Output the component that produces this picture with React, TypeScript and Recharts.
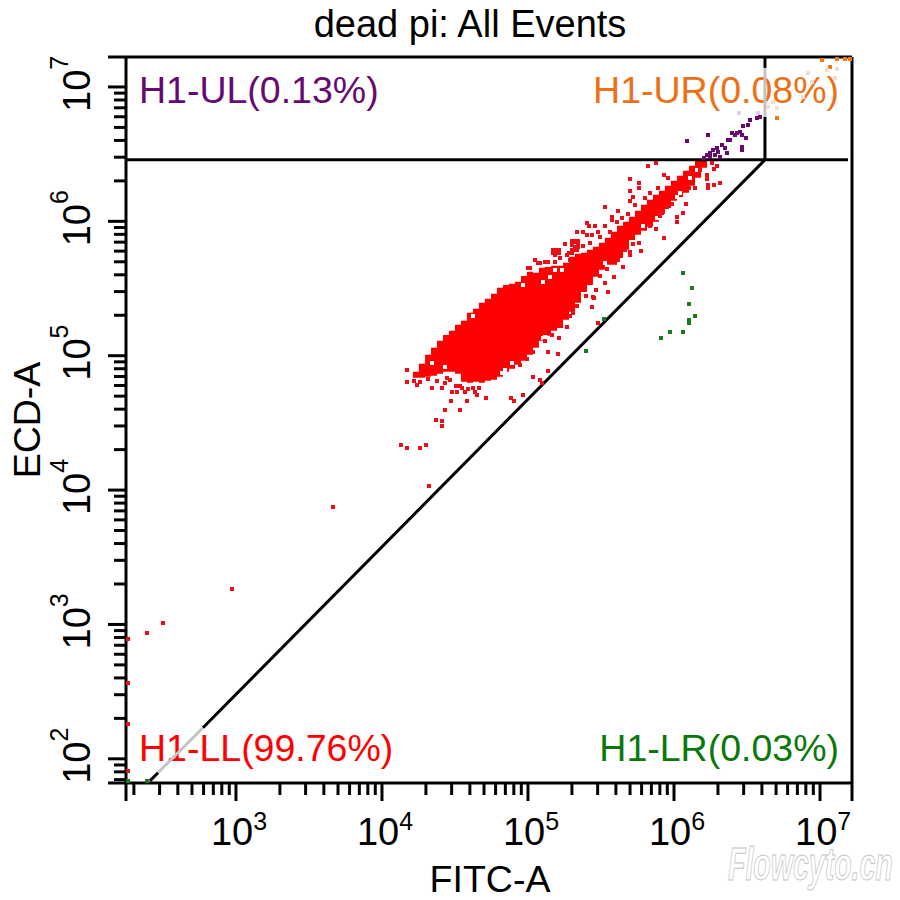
import React from 'react';
import { ComposedChart, Area, Scatter, XAxis, YAxis, ReferenceLine } from 'recharts';

// Everything on the event axes is kept as log10(channel value), the picture is read in decades
const FONT = '"Liberation Sans", Arial, sans-serif';

const xMin = 176.6;
const xMax = 1.656e7;
const yMin = 66.07;
const yMax = 1.671e7;

const xMajor = [xMin, 1e3, 1e4, 1e5, 1e6, 1e7, xMax];
const xMinor = [
  200, 300, 400, 500, 600, 700, 800, 900,
  2e3, 3e3, 4e3, 5e3, 6e3, 7e3, 8e3, 9e3,
  2e4, 3e4, 4e4, 5e4, 6e4, 7e4, 8e4, 9e4,
  2e5, 3e5, 4e5, 5e5, 6e5, 7e5, 8e5, 9e5,
  2e6, 3e6, 4e6, 5e6, 6e6, 7e6, 8e6, 9e6,
];
const yMajor = [yMin, 1e2, 1e3, 1e4, 1e5, 1e6, 1e7, yMax];
const yMinor = [
  70, 80, 90,
  200, 300, 400, 500, 600, 700, 800, 900,
  2e3, 3e3, 4e3, 5e3, 6e3, 7e3, 8e3, 9e3,
  2e4, 3e4, 4e4, 5e4, 6e4, 7e4, 8e4, 9e4,
  2e5, 3e5, 4e5, 5e5, 6e5, 7e5, 8e5, 9e5,
  2e6, 3e6, 4e6, 5e6, 6e6, 7e6, 8e6, 9e6,
];
const decadeLabels: Record<number, string> = { 100: '2', 1000: '3', 10000: '4', 100000: '5', 1000000: '6', 10000000: '7' };

// dense population: envelope per FITC column
const blobFitc = [
  4.212, 4.253, 4.295, 4.336, 4.377, 4.418, 4.459, 4.5, 4.541, 4.582,
  4.623, 4.664, 4.705, 4.747, 4.788, 4.829, 4.87, 4.911, 4.952, 4.993,
  5.034, 5.075, 5.116, 5.158, 5.199, 5.24, 5.281, 5.322, 5.363, 5.404,
  5.445, 5.486, 5.527, 5.568, 5.61, 5.651, 5.692, 5.733, 5.774, 5.815,
  5.856, 5.897, 5.938, 5.979, 6.021, 6.062, 6.103, 6.144, 6.185, 6.226,
];
const blobHigh = [
  4.88, 4.94, 5.007, 5.059, 5.111, 5.155, 5.185, 5.23, 5.26, 5.319,
  5.349, 5.394, 5.423, 5.461, 5.505, 5.527, 5.535, 5.55, 5.594, 5.624,
  5.617, 5.654, 5.661, 5.669, 5.669, 5.691, 5.736, 5.758, 5.766, 5.788,
  5.81, 5.84, 5.877, 5.922, 5.967, 5.996, 6.034, 6.078, 6.123, 6.16,
  6.197, 6.227, 6.264, 6.302, 6.339, 6.376, 6.413, 6.45, 6.458, 6.458,
];
const blobLow = [
  4.835, 4.835, 4.843, 4.85, 4.865, 4.88, 4.88, 4.865, 4.806, 4.798,
  4.806, 4.798, 4.813, 4.821, 4.843, 4.88, 4.902, 4.932, 4.962, 5.007,
  5.059, 5.111, 5.148, 5.185, 5.207, 5.267, 5.327, 5.394, 5.475, 5.527,
  5.587, 5.639, 5.676, 5.676, 5.728, 5.788, 5.862, 5.9, 5.929, 5.959,
  5.996, 6.056, 6.1, 6.153, 6.182, 6.212, 6.264, 6.324, 6.398, 6.435,
];

// bins inside the population that hold no events
const gapFitc = [
  6.041, 6.02, 5.788, 5.883, 6.157, 6.109, 5.527, 4.623, 4.342, 4.431,
  4.966, 5.103, 5.151, 5.185, 5.233, 5.116, 4.89, 5.103, 4.842, 4.822,
];
const gapEcd = [
  6.212, 6.182, 5.967, 6.026, 6.383, 6.324, 5.691, 5.297, 4.947, 4.917,
  5.527, 5.55, 5.587, 5.639, 5.639, 5.14, 4.947, 5.133, 4.895, 4.873,
];

// stray red events around the population
const strayFitc = [
  4.13, 4.171, 4.26, 4.301, 4.322, 4.37, 4.411, 4.411, 4.431, 4.534,
  4.473, 4.582, 4.904, 4.171, 4.171, 4.24, 4.342, 4.411, 4.315, 4.431,
  4.479, 4.514, 4.568, 4.637, 4.651, 4.664, 4.712, 4.883, 4.966, 5.137,
  5.205, 5.137, 5.034, 5.082, 5.096, 5.212, 5.267, 5.438, 5.452, 5.548,
  5.527, 5.589, 5.479, 5.445, 5.466, 5.308, 5.048, 5.068, 5.404, 5.418,
  5.459, 5.527, 5.336, 5.377, 5.404, 5.438, 5.479, 5.322, 5.301, 5.253,
  5.336, 5.199, 5.185, 5.267, 5.082, 5.185, 5.288, 5.116, 5.0,
  5.822, 5.877, 5.931, 5.699, 5.76, 5.76, 5.699, 5.89, 5.719, 5.699,
  5.733, 5.527, 5.616, 5.575, 5.575, 5.609, 6.02, 6.02, 6.061, 6.082,
  5.877, 5.931, 5.952, 5.918, 5.76, 5.719, 5.774, 5.699, 5.699, 5.651,
  6.144, 6.103, 6.233, 6.233, 6.274, 6.315, 6.226, 6.226, 6.274, 6.294,
  6.26, 6.178,
  3.664, 2.973, 2.5, 2.39, 2.26, 2.26, 2.26, 2.26,
  5.171, 5.192, 5.212, 5.171, 5.212, 5.301, 5.322, 5.342, 5.301, 5.342,
  5.322, 5.342, 5.301, 5.322, 5.301, 5.281,
  4.219, 4.26, 4.377, 4.445, 4.466, 4.507, 4.548, 4.589, 4.623, 4.534,
  4.945, 4.993, 5.034, 5.116, 5.164, 5.219, 5.288, 5.336, 5.397, 5.493, 5.541,
  5.014, 5.137, 5.219, 5.377, 5.425, 5.493, 5.562, 5.644, 5.685, 5.801,
  5.836, 5.959, 5.904, 5.986, 5.836, 5.664, 5.616,
];
const strayEcd = [
  4.337, 4.314, 4.314, 4.337, 4.032, 4.523, 4.515, 4.478, 4.597, 4.597,
  4.664, 4.664, 4.664, 4.895, 4.806, 4.783, 4.761, 4.761, 4.828, 4.798,
  4.731, 4.731, 4.731, 4.731, 4.709, 4.761, 4.687, 4.687, 4.709, 5.029,
  5.014, 4.887, 4.843, 4.821, 4.798, 5.133, 5.215, 5.364, 5.431, 5.475,
  5.542, 5.587, 5.245, 5.438, 5.49, 5.319, 5.714, 5.691, 5.989, 5.967,
  5.967, 5.967, 5.922, 5.922, 5.9, 5.9, 5.922, 5.848, 5.825, 5.833,
  5.788, 5.773, 5.751, 5.751, 5.691, 5.699, 5.714, 5.699, 5.654,
  6.413, 6.435, 6.346, 6.316, 6.287, 6.249, 6.227, 6.249, 6.182, 6.153,
  6.123, 6.108, 6.078, 6.034, 6.011, 5.996, 6.034, 5.996, 6.063, 6.13,
  5.944, 5.877, 6.108, 6.063, 5.84, 5.833, 5.781, 5.773, 5.751, 5.661,
  6.249, 6.249, 6.272, 6.249, 6.272, 6.287, 6.316, 6.346, 6.391, 6.413,
  6.435, 6.383,
  3.875, 3.265, 3.012, 2.938, 2.893, 2.566, 2.26, 1.911,
  5.788, 5.788, 5.788, 5.766, 5.766, 5.855, 5.855, 5.855, 5.833, 5.833,
  5.81, 5.81, 5.788, 5.788, 5.766, 5.766,
  4.813, 4.806, 4.813, 4.835, 4.821, 4.776, 4.761, 4.754, 4.761, 4.776,
  4.932, 4.977, 5.029, 5.111, 5.155, 5.23, 5.297, 5.371, 5.446, 5.594, 5.647,
  5.654, 5.699, 5.728, 5.818, 5.84, 5.885, 5.922, 6.026, 6.056, 6.175,
  6.212, 6.324, 6.041, 6.13, 5.967, 5.788, 5.714,
];

const lrFitc = [6.061, 6.123, 6.103, 6.144, 6.103, 6.103, 6.061, 5.972, 5.911, 5.397, 5.52, 2.26, 2.39];
const lrEcd = [5.617, 5.505, 5.386, 5.297, 5.267, 5.245, 5.178, 5.178, 5.133, 5.036, 5.274, 1.836, 1.836];

const ulFitc = [
  6.226, 6.246, 6.267, 6.294, 6.329, 6.37, 6.397, 6.431, 6.466, 6.472,
  6.507, 6.52, 6.568, 6.589, 6.089, 6.233, 6.493, 6.466, 6.466, 6.363,
  6.315, 6.246, 6.349, 6.383, 6.418, 6.452, 6.301, 6.281, 6.205,
];
const ulEcd = [
  6.495, 6.51, 6.532, 6.547, 6.569, 6.607, 6.659, 6.659, 6.644, 6.711,
  6.718, 6.755, 6.77, 6.778, 6.599, 6.644, 6.621, 6.554, 6.532, 6.51,
  6.48, 6.48, 6.547, 6.607, 6.644, 6.666, 6.517, 6.495, 6.473,
];

const urFitc = [6.705, 7.014, 7.116, 7.171, 7.205, 7.068];
const urEcd = [6.77, 7.202, 7.209, 7.209, 7.209, 7.15];

// events washed out under the label text
const urPaleFitc = [6.678, 6.644, 6.705, 6.918, 6.945, 6.883, 7.103, 7.116, 7.048];
const urPaleEcd = [6.889, 6.852, 6.845, 7.105, 7.038, 6.927, 7.068, 7.135, 7.128];
const ulPaleFitc = [6.445, 6.575];
const ulPaleEcd = [6.808, 6.808];

const toEvents = (fitc: number[], ecd: number[]) =>
  fitc.map((v, i) => ({ fitc: 10 ** v, ecd: 10 ** ecd[i] }));

const blobRows = blobFitc.map((v, i) => ({
  fitc: 10 ** v,
  range: [10 ** blobLow[i], 10 ** blobHigh[i]],
}));

const EventSquare = (props: any) => (
  <rect x={props.cx - 1.75} y={props.cy - 1.75} width={3.5} height={3.5} fill={props.fill} shapeRendering="crispEdges" />
);

const XTick = ({ x, y, payload }: any) => {
  const long = xMajor.includes(payload.value);
  const sup = decadeLabels[payload.value];
  return (
    <g>
      <line x1={x} x2={x} y1={y} y2={y + (long ? 18 : 12)} stroke="#000" strokeWidth={3} />
      {sup && (
        <text x={x - 25} y={845} fontFamily={FONT} fontSize={38} fill="#000">
          10
          <tspan fontSize={25} dy={-15}>{sup}</tspan>
        </text>
      )}
    </g>
  );
};

const YTick = ({ x, y, payload }: any) => {
  const long = yMajor.includes(payload.value);
  const sup = decadeLabels[payload.value];
  return (
    <g>
      <line x1={x} x2={x - (long ? 18 : 12)} y1={y} y2={y} stroke="#000" strokeWidth={3} />
      {sup && (
        <text transform={`translate(90,${y + 25}) rotate(-90)`} fontFamily={FONT} fontSize={38} fill="#000">
          10
          <tspan fontSize={25} dy={-22}>{sup}</tspan>
        </text>
      )}
    </g>
  );
};

const Segment = ({ from, to, color = '#000' }: any) => (
  <ReferenceLine
    segment={[{ x: 10 ** from[0], y: 10 ** from[1] }, { x: 10 ** to[0], y: 10 ** to[1] }]}
    stroke={color}
    strokeWidth={3}
    ifOverflow="visible"
  />
);

export default function App() {
  return (
    <div style={{ position: 'absolute', left: 0, top: 0, width: 900, height: 900, background: '#fff' }}>
      <ComposedChart width={900} height={900} data={blobRows} margin={{ top: 57, right: 48, bottom: 0, left: 0 }}>
        <XAxis
          dataKey="fitc"
          type="number"
          scale="log"
          domain={[xMin, xMax]}
          allowDataOverflow
          ticks={[...xMajor, ...xMinor]}
          interval={0}
          height={117}
          tickSize={0}
          tickMargin={0}
          tickLine={false}
          tick={<XTick />}
          axisLine={{ stroke: '#000', strokeWidth: 3 }}
        />
        <YAxis
          dataKey="ecd"
          type="number"
          scale="log"
          domain={[yMin, yMax]}
          allowDataOverflow
          ticks={[...yMajor, ...yMinor]}
          interval={0}
          width={126}
          tickSize={0}
          tickMargin={0}
          tickLine={false}
          tick={<YTick />}
          axisLine={{ stroke: '#000', strokeWidth: 3 }}
        />
        <ReferenceLine x={xMax} stroke="#000" strokeWidth={3} ifOverflow="visible" />
        <ReferenceLine y={yMax} stroke="#000" strokeWidth={3} ifOverflow="visible" />

        {/* quadrant gates */}
        <Segment from={[2.247, 6.458]} to={[7.192, 6.458]} />
        <Segment from={[6.623, 6.458]} to={[6.623, 6.778]} />
        <Segment from={[6.623, 6.778]} to={[6.623, 7.142]} color="#c4c4c4" />
        <Segment from={[6.623, 7.142]} to={[6.623, 7.223]} />
        <Segment from={[6.623, 6.458]} to={[2.774, 2.231]} />
        <Segment from={[2.774, 2.231]} to={[2.466, 1.896]} color="#c4c4c4" />
        <Segment from={[2.466, 1.896]} to={[2.411, 1.836]} />

        <Area
          dataKey="range"
          type="stepAfter"
          stroke="none"
          fill="#ff0000"
          fillOpacity={1}
          dot={false}
          activeDot={false}
          isAnimationActive={false}
        />
        <Scatter data={toEvents(gapFitc, gapEcd)} fill="#ffffff" shape={EventSquare} isAnimationActive={false} />
        <Scatter data={toEvents(strayFitc, strayEcd)} fill="#ee0c18" shape={EventSquare} isAnimationActive={false} />
        <Scatter data={toEvents(lrFitc, lrEcd)} fill="#1a7a1a" shape={EventSquare} isAnimationActive={false} />
        <Scatter data={toEvents(ulFitc, ulEcd)} fill="#660a70" shape={EventSquare} isAnimationActive={false} />
        <Scatter data={toEvents(ulPaleFitc, ulPaleEcd)} fill="#dcd0e4" shape={EventSquare} isAnimationActive={false} />
        <Scatter data={toEvents(urFitc, urEcd)} fill="#f07818" shape={EventSquare} isAnimationActive={false} />
        <Scatter data={toEvents(urPaleFitc, urPaleEcd)} fill="#f8dccb" shape={EventSquare} isAnimationActive={false} />

        <text x={470} y={37} textAnchor="middle" fontFamily={FONT} fontSize={38} fill="#000">dead pi: All Events</text>
        <text x={490} y={892} textAnchor="middle" fontFamily={FONT} fontSize={37.5} fill="#000">FITC-A</text>
        <text transform="translate(40,420) rotate(-90)" textAnchor="middle" fontFamily={FONT} fontSize={37.5} fill="#000">ECD-A</text>

        <text x={139} y={103} fontFamily={FONT} fontSize={37.5} fill="#660a70">H1-UL(0.13%)</text>
        <text x={839} y={103} textAnchor="end" fontFamily={FONT} fontSize={37.5} fill="#ee7016">H1-UR(0.08%)</text>
        <text x={139} y={761} fontFamily={FONT} fontSize={37.5} fill="#ff0000">H1-LL(99.76%)</text>
        <text x={839} y={761} textAnchor="end" fontFamily={FONT} fontSize={37.5} fill="#0a780a">H1-LR(0.03%)</text>

        <text
          transform="translate(728,880) scale(0.62,1)"
          fontFamily={FONT}
          fontStyle="italic"
          fontWeight="bold"
          fontSize={46}
          fill="#fff"
          stroke="#c4c4c4"
          strokeWidth={1}
        >
          Flowcyto.cn
        </text>
      </ComposedChart>
    </div>
  );
}
